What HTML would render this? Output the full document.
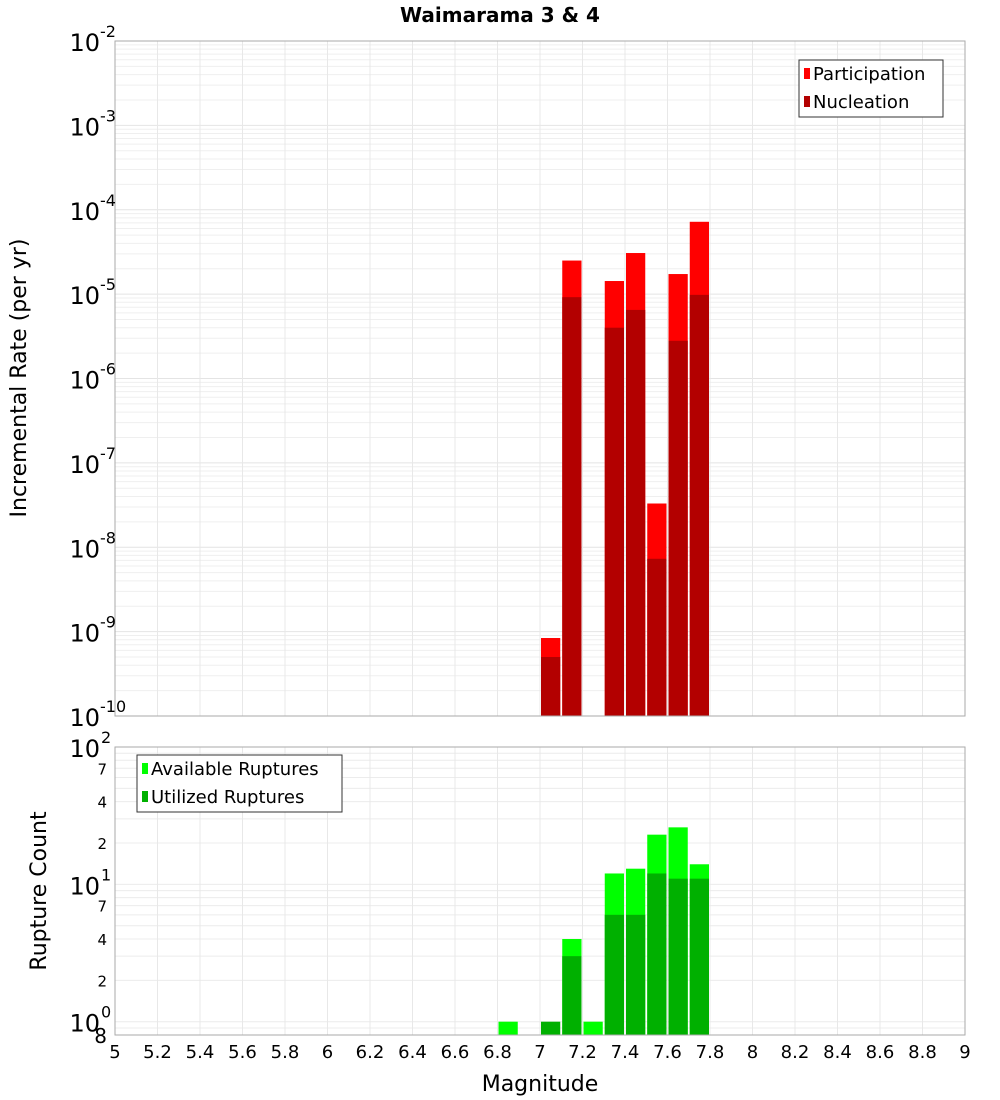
<!DOCTYPE html>
<html><head><meta charset="utf-8"><style>
html,body{margin:0;padding:0;background:#fff;}
svg{display:block;font-family:"DejaVu Sans","Liberation Sans",sans-serif;}
</style></head><body>
<svg id="chart" width="1000" height="1100" xmlns="http://www.w3.org/2000/svg">
<text x="500" y="22" text-anchor="middle" font-size="20" font-weight="bold">Waimarama 3 &amp; 4</text>
<g id="topplot"></g>
<g id="botplot"></g>
<text transform="translate(26,378) rotate(-90)" text-anchor="middle" font-size="22">Incremental Rate (per yr)</text>
<text transform="translate(46,891) rotate(-90)" text-anchor="middle" font-size="22">Rupture Count</text>
<text x="540" y="1091" text-anchor="middle" font-size="22">Magnitude</text>
</svg>
<script>
const bins = [6.85, 7.05, 7.15, 7.25, 7.35, 7.45, 7.55, 7.65, 7.75];
const participation = [0, 8.4e-10, 2.5e-5, 0, 1.43e-5, 3.07e-5, 3.3e-8, 1.73e-5, 7.2e-5];
const nucleation = [0, 5e-10, 9.2e-6, 0, 4e-6, 6.5e-6, 7.3e-9, 2.8e-6, 9.8e-6];
const available = [1, 0, 4, 1, 12, 13, 23, 26, 14];
const utilized = [0, 1, 3, 0, 6, 6, 12, 11, 11];
const xTicks = [5,5.2,5.4,5.6,5.8,6,6.2,6.4,6.6,6.8,7,7.2,7.4,7.6,7.8,8,8.2,8.4,8.6,8.8,9];
const xTickLabels = ["5","5.2","5.4","5.6","5.8","6","6.2","6.4","6.6","6.8","7","7.2","7.4","7.6","7.8","8","8.2","8.4","8.6","8.8","9"];
const rateExps = [-2,-3,-4,-5,-6,-7,-8,-9,-10];
const countMinorLabels = [[70,"7"],[40,"4"],[20,"2"],[7,"7"],[4,"4"],[2,"2"],[0.8,"8"]];

const NS="http://www.w3.org/2000/svg";
const L=115,R=965;
const xs=v=>L+(v-5)/4*(R-L);
const T1=41,B1=716;
const yR=v=>T1+(-2-Math.log10(v))*(B1-T1)/8;
const T2=747,B2=1035;
const lmin=Math.log10(0.8),lmax=2;
const yC=v=>B2-(Math.log10(v)-lmin)/(lmax-lmin)*(B2-T2);
function mk(tag,attrs,parent,text){const e=document.createElementNS(NS,tag);for(const k in attrs)e.setAttribute(k,attrs[k]);if(text!==undefined)e.textContent=text;parent.appendChild(e);return e;}
const topG=document.getElementById('topplot'),botG=document.getElementById('botplot');

for(let e=-10;e<-2;e++)for(let m=1;m<10;m++){const yy=yR(m*Math.pow(10,e));const g=mk('line',{x1:L,x2:R,y1:yy,y2:yy,stroke:m==1?'#e4e4e4':'#efefef','stroke-width':1},topG);

}
for(let e=-1;e<2;e++)for(let m=1;m<10;m++){const v=m*Math.pow(10,e);if(v<0.8||v>100)continue;const yy=yC(v);const g=mk('line',{x1:L,x2:R,y1:yy,y2:yy,stroke:'#ececec','stroke-width':1},botG);

}
xTicks.forEach(t=>{[[T1,B1,topG],[T2,B2,botG]].forEach(([a,b,p])=>{const g=mk('line',{x1:xs(t),x2:xs(t),y1:a,y2:b,stroke:'#e8e8e8'},p);

});});

const bw=(xs(0.1)-xs(0))-2;
function bar(p,cx,y0,yv,fill,name){const r=mk('rect',{x:xs(cx)-bw/2,y:yv,width:bw,height:Math.max(0,y0-yv),fill:fill},p);

}
bins.forEach((b,i)=>{
 if(participation[i]>0)bar(topG,b,B1,yR(participation[i]),'#ff0000','participation-bar');
 if(nucleation[i]>0)bar(topG,b,B1,yR(nucleation[i]),'#b30000','nucleation-bar');
 if(available[i]>0)bar(botG,b,B2,yC(available[i]),'#00ff00','available-bar');
 if(utilized[i]>0)bar(botG,b,B2,yC(utilized[i]),'#00b000','utilized-bar');
});

[[T1,B1,topG],[T2,B2,botG]].forEach(([a,b,p])=>{const f=mk('rect',{x:L,y:a,width:R-L,height:b-a,fill:'none',stroke:'#aaa'},p);

});

rateExps.forEach(e=>{const yy=yR(Math.pow(10,e));const t=mk('text',{x:100,y:yy+10,'text-anchor':'end','font-size':24},topG,'10');


const s=mk('text',{x:100,y:yy-4,'font-size':16},topG,String(e));

});
[[100,"2"],[10,"1"],[1,"0"]].forEach(([v,e])=>{const yy=yC(v);const t=mk('text',{x:100,y:yy+10,'text-anchor':'end','font-size':24},botG,'10');


const s=mk('text',{x:101,y:yy-4,'font-size':16},botG,e);

});
countMinorLabels.forEach(([v,l])=>{const yy=yC(v);const t=mk('text',{x:107,y:yy+(v<1?8:6),'text-anchor':'end','font-size':v<1?20:15},botG,l);

});
xTicks.forEach((t,i)=>{const e=mk('text',{x:xs(t),y:1058,'text-anchor':'middle','font-size':18},botG,xTickLabels[i]);

});

function legend(p,bx,by,w,items,name){const g=mk('g',{},p);


mk('rect',{x:bx,y:by,width:w,height:57,fill:'#fff',stroke:'#333'},g);
items.forEach(([c,l],i)=>{const yy=by+14+i*28;const sw=mk('rect',{x:bx+5,y:yy-6,width:6,height:11,fill:c},g);


const t=mk('text',{x:bx+14,y:yy+6,'font-size':18},g,l);

});}
legend(topG,799,60,144,[['#ff0000','Participation'],['#b30000','Nucleation']],'rate-legend');
legend(botG,137,755,205,[['#00ff00','Available Ruptures'],['#00b000','Utilized Ruptures']],'count-legend');
</script>
</body></html>
